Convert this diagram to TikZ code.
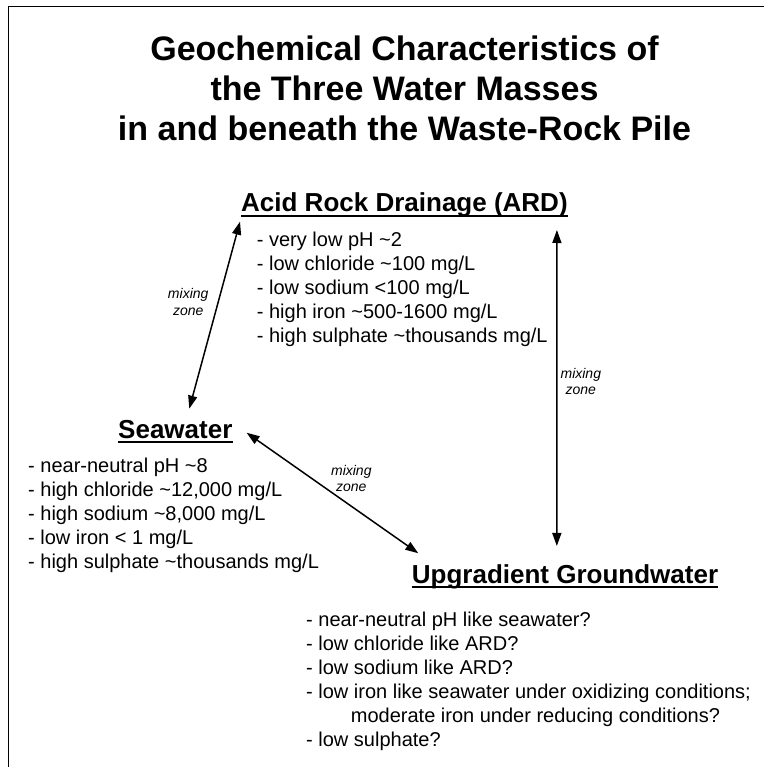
\documentclass[tikz,border=0pt]{standalone}
\usepackage{fontspec}
\setmainfont{Liberation Sans}
\usetikzlibrary{arrows.meta,positioning}

\tikzset{
  head/.style={inner sep=0pt,font=\fontsize{26}{31}\selectfont\bfseries},
  list/.style={inner sep=0pt,align=left,font=\fontsize{20}{24}\selectfont},
  mix/.style={inner sep=0pt,align=center,font=\fontsize{14}{16.3}\selectfont\itshape},
  uline/.style={line width=2pt},
  arr/.style={{Triangle[length=13pt,width=9pt]}-{Triangle[length=13pt,width=9pt]},line width=1.5pt}
}

\begin{document}
\begin{tikzpicture}[x=1pt,y=-1pt]
      \useasboundingbox (0,0) rectangle (764,767);
      \draw[line width=1pt] (764,7) -- (8,7) -- (8,767);

      \node[inner sep=0pt,align=center,anchor=north,font=\fontsize{34}{40}\selectfont\bfseries] (title) at (404.5,35.2)
        {Geochemical Characteristics of\\the Three Water Masses\\in and beneath the Waste-Rock Pile};

      \node[head,anchor=base west] (ard) at (241,211.7) {Acid Rock Drainage (ARD)};
      \node[head,anchor=base west] (sea) at (118,438) {Seawater};
      \node[head,anchor=base west] (upg) at (411.7,583) {Upgradient Groundwater};
      \draw[uline] ([yshift=-4.3pt]ard.base west) -- ([yshift=-4.3pt]ard.base east);
      \draw[uline] ([yshift=-4.3pt]sea.base west) -- ([yshift=-4.3pt]sea.base east);
      \draw[uline] ([yshift=-4.3pt]upg.base west) -- ([yshift=-4.3pt]upg.base east);

      \node[list,below right=20.6pt and 15.7pt of ard.base west] (ardlist)
        {- very low pH \textasciitilde2\\
         - low chloride \textasciitilde100 mg/L\\
         - low sodium <100 mg/L\\
         - high iron \textasciitilde500-1600 mg/L\\
         - high sulphate \textasciitilde thousands mg/L};
      \node[list,anchor=north west] (sealist) at (28,458.3)
        {- near-neutral pH \textasciitilde8\\
         - high chloride \textasciitilde12,000 mg/L\\
         - high sodium \textasciitilde8,000 mg/L\\
         - low iron < 1 mg/L\\
         - high sulphate \textasciitilde thousands mg/L};
      \node[list,anchor=north west] (upglist) at (306,611.6)
        {- near-neutral pH like seawater?\\
         - low chloride like ARD?\\
         - low sodium like ARD?\\
         - low iron like seawater under oxidizing conditions;\\
         \hspace*{44.7pt}moderate iron under reducing conditions?\\
         - low sulphate?};

      \draw[arr] ([shift={(-1,10)}]ard.base west) -- node[mix,pos=0.43,left=9pt] (mixa) {mixing\\zone} ([shift={(14,-11)}]sea.north);
      \draw[arr] ([shift={(-11,18.3)}]ard.base east) -- node[mix,pos=0.48,right=3pt] (mixb) {mixing\\zone} ([shift={(-8.2,-18)}]upg.north);
      \draw[arr] ([shift={(14,-5.3)}]sea.base east) -- node[mix,pos=0.61,above=14pt] (mixc) {mixing\\zone} ([shift={(6.6,-10.7)}]upg.north west);
    \end{tikzpicture}
\end{document}
